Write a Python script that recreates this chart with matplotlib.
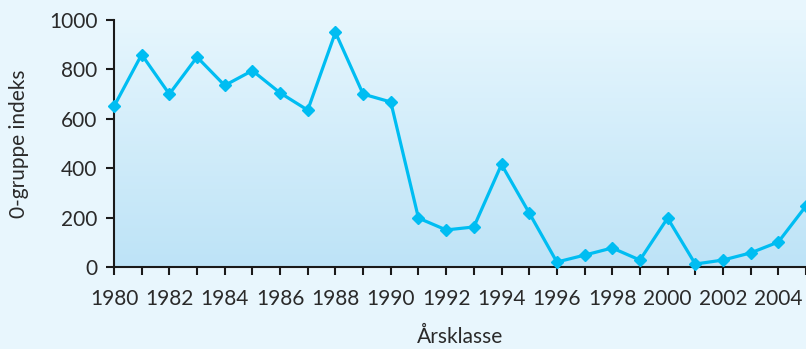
import numpy as np
import matplotlib
matplotlib.use("Agg")
import matplotlib.pyplot as plt
from matplotlib.colors import LinearSegmentedColormap

# 0-gruppe indeks per aarsklasse
years = list(range(1980, 2006))
index = [650, 860, 700, 850, 735, 795, 705, 635, 950, 700, 668, 198,
         150, 162, 415, 219, 20, 48, 77, 28, 198, 12, 28, 57, 101, 247]
tick_years = list(range(1980, 2006, 2))

plt.rcParams['font.family'] = ['Lato', 'DejaVu Sans']

fig = plt.figure(figsize=(8.06, 3.49), dpi=100)
fig.patch.set_facecolor('#e8f6fd')
ax = fig.add_axes([0.1414, 0.235, 0.8586, 0.7077])

# gradient background inside the axes
cmap = LinearSegmentedColormap.from_list('bg', ['#bde3f7', '#e6f6fd'])
grad = np.linspace(0, 1, 256).reshape(-1, 1)
ax.imshow(grad, cmap=cmap, aspect='auto', origin='lower',
          extent=[0, 1, 0, 1], transform=ax.transAxes, zorder=0)

ax.plot(years, index, color='#00bdf2', lw=2.3, marker='D', ms=6.5,
        zorder=3, clip_on=False)

ax.set_xlim(1980, 2005)
ax.set_ylim(0, 1000)
ax.set_xticks(years)
ax.set_xticklabels([str(y) if y in tick_years else '' for y in years])
ax.set_yticks([0, 200, 400, 600, 800, 1000])

for s in ['top', 'right']:
    ax.spines[s].set_visible(False)
for s in ['left', 'bottom']:
    ax.spines[s].set_linewidth(1.5)
    ax.spines[s].set_color('#1a1a1a')
ax.tick_params(direction='out', length=6, width=1.5, colors='#1a1a1a',
               labelsize=15, pad=6)
ax.tick_params(axis='x', pad=10)
for lab in ax.get_xticklabels() + ax.get_yticklabels():
    lab.set_color('#2a2a2a')

ax.set_ylabel('0-gruppe indeks', fontsize=15, color='#2a2a2a', labelpad=14)
ax.set_xlabel('Årsklasse', fontsize=15, color='#2a2a2a', labelpad=13)

fig.savefig('out.png', dpi=100, facecolor=fig.get_facecolor())
